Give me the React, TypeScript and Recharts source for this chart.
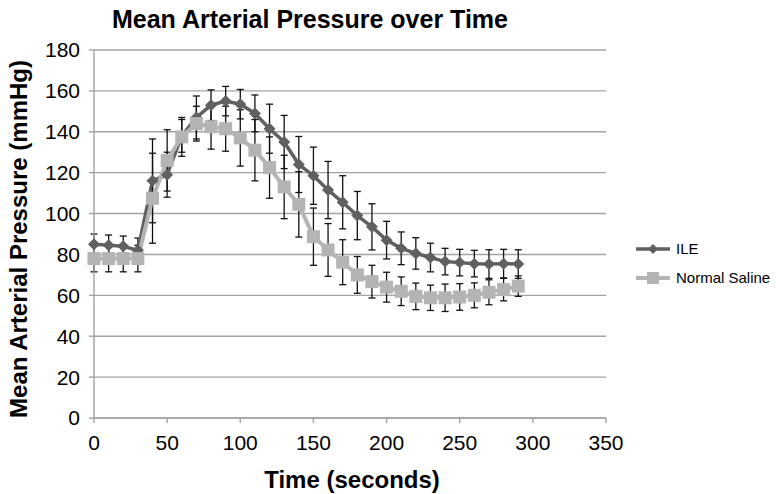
import React from 'react';
import { LineChart, Line, XAxis, YAxis, CartesianGrid, ErrorBar, Legend } from 'recharts';

const times = [0, 10, 20, 30, 40, 50, 60, 70, 80, 90, 100, 110, 120, 130, 140, 150, 160, 170, 180, 190, 200, 210, 220, 230, 240, 250, 260, 270, 280, 290];
const ileMean = [85, 84.5, 84, 82, 116, 119, 138, 147, 153, 155, 153.5, 149, 141.5, 135, 124, 118.5, 111.5, 105.5, 99, 93.5, 87, 83, 80.5, 78.5, 76.5, 76, 75.5, 75.3, 75.5, 75.3];
const ileSD = [5, 5, 5, 6, 20.5, 11, 8, 10.5, 7.5, 7.2, 7.2, 9, 12, 13, 13.7, 14, 14, 13, 11.8, 11.3, 9.2, 8, 7.7, 7, 6.5, 6.5, 6.5, 7, 7, 7];
const salineMean = [78, 78, 78, 78, 107.5, 126, 137.5, 144, 142.5, 141.5, 137, 131, 122.5, 113, 104.5, 88.7, 82.2, 76.2, 70, 66.7, 64, 62, 59.5, 58.8, 58.8, 59.2, 60, 61.5, 62.8, 64.5];
const salineSD = [6.5, 6.5, 6.5, 6.5, 22, 15, 9.5, 8.5, 11, 11, 13.8, 15, 15, 15.5, 16, 14, 12.9, 11, 9, 8, 7.3, 7, 6.5, 6.2, 6.7, 6.5, 6.1, 6.1, 5.5, 5];
const xTicks = [0, 50, 100, 150, 200, 250, 300, 350];
const yTicks = [0, 20, 40, 60, 80, 100, 120, 140, 160, 180];

const seriesNames = ['ILE', 'Normal Saline'];
const ILE_COLOR = '#606060';
const SAL_COLOR = '#b4b4b4';
const FONT = '"Liberation Sans", Arial, Helvetica, sans-serif';

const data = times.map((t, i) => ({
  t,
  ile: ileMean[i],
  ileErr: ileSD[i],
  saline: salineMean[i],
  salineErr: salineSD[i],
}));

const DiamondDot = (props: any) => {
  const { cx, cy, index } = props;
  if (cx == null || cy == null) return <g key={`dd-${index}`} />;
  const r = 6;
  return (
    <polygon
      key={`dd-${index}`}
      points={`${cx},${cy - r} ${cx + r},${cy} ${cx},${cy + r} ${cx - r},${cy}`}
      fill={ILE_COLOR}
    />
  );
};

const SquareDot = (props: any) => {
  const { cx, cy, index } = props;
  if (cx == null || cy == null) return <g key={`sd-${index}`} />;
  const s = 13;
  return <rect key={`sd-${index}`} x={cx - s / 2} y={cy - s / 2} width={s} height={s} fill={SAL_COLOR} />;
};

const LegendContent = () => (
  <svg width={146} height={60} style={{ display: 'block' }}>
    <line x1={6} x2={40} y1={14} y2={14} stroke={ILE_COLOR} strokeWidth={3.5} />
    <polygon points="23,9 28,14 23,19 18,14" fill={ILE_COLOR} />
    <text x={46} y={19} fontSize={15} fontFamily={FONT} fill="#000">{seriesNames[0]}</text>
    <line x1={6} x2={40} y1={43} y2={43} stroke={SAL_COLOR} strokeWidth={4} />
    <rect x={17} y={37} width={12} height={12} fill={SAL_COLOR} />
    <text x={46} y={48} fontSize={15} fontFamily={FONT} fill="#000">{seriesNames[1]}</text>
  </svg>
);

export default function App() {
  return (
    <div style={{ position: 'absolute', left: 0, top: 0, width: 776, height: 494, background: '#fff' }}>
      <LineChart
        width={776}
        height={494}
        data={data}
        margin={{ top: 50, right: 170, bottom: 46, left: 0 }}
      >
        <CartesianGrid horizontal={true} vertical={false} stroke="#a3a3a3" strokeWidth={1.4} />
        <XAxis
          type="number"
          dataKey="t"
          domain={[0, 350]}
          ticks={xTicks}
          interval={0}
          height={30}
          tickSize={5}
          tickMargin={12}
          axisLine={{ stroke: '#a3a3a3', strokeWidth: 1.4 }}
          tickLine={{ stroke: '#a3a3a3', strokeWidth: 1.4 }}
          tick={{ fill: '#000', fontSize: 21, fontFamily: FONT }}
        />
        <YAxis
          type="number"
          domain={[0, 180]}
          ticks={yTicks}
          interval={0}
          width={94}
          tickSize={5}
          tickMargin={9}
          axisLine={{ stroke: '#a3a3a3', strokeWidth: 1.4 }}
          tickLine={{ stroke: '#a3a3a3', strokeWidth: 1.4 }}
          tick={{ fill: '#000', fontSize: 21, fontFamily: FONT }}
        />
        <Legend
          layout="vertical"
          align="center"
          verticalAlign="middle"
          content={LegendContent}
          wrapperStyle={{ position: 'absolute', left: 630, top: 235, width: 146, height: 60 }}
        />
        <Line
          name={seriesNames[0]}
          dataKey="ile"
          stroke={ILE_COLOR}
          strokeWidth={3.5}
          dot={DiamondDot}
          activeDot={false}
          isAnimationActive={false}
        >
          <ErrorBar dataKey="ileErr" direction="y" width={3.5} stroke="#111" strokeWidth={1.3} isAnimationActive={false} />
        </Line>
        <Line
          name={seriesNames[1]}
          dataKey="saline"
          stroke={SAL_COLOR}
          strokeWidth={4}
          dot={SquareDot}
          activeDot={false}
          isAnimationActive={false}
        >
          <ErrorBar dataKey="salineErr" direction="y" width={3.5} stroke="#111" strokeWidth={1.3} isAnimationActive={false} />
        </Line>
      </LineChart>
      <svg
        width={776}
        height={494}
        style={{ position: 'absolute', left: 0, top: 0, pointerEvents: 'none' }}
      >
        <text x={310} y={28} textAnchor="middle" fontSize={25} fontWeight="bold" fontFamily={FONT} fill="#000">
          Mean Arterial Pressure over Time
        </text>
        <text x={352} y={488} textAnchor="middle" fontSize={24} fontWeight="bold" fontFamily={FONT} fill="#000">
          Time (seconds)
        </text>
        <text
          x={0}
          y={0}
          transform="translate(27,239) rotate(-90)"
          textAnchor="middle"
          fontSize={24}
          fontWeight="bold"
          fontFamily={FONT}
          fill="#000"
        >
          Mean Arterial Pressure (mmHg)
        </text>
      </svg>
    </div>
  );
}
